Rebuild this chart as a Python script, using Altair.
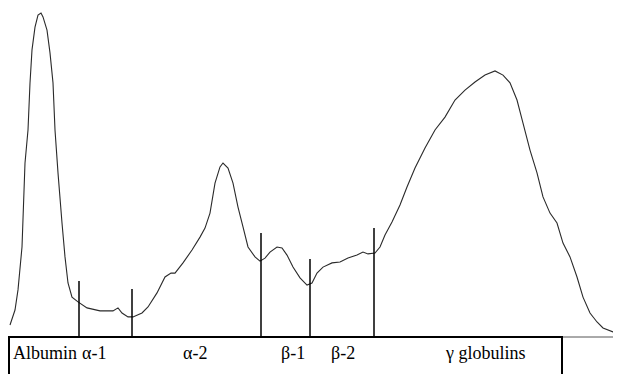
import altair as alt
import pandas as pd

# Densitometry trace of serum protein electrophoresis (mobility units, relative intensity)
mobility = [0.4, 1.4, 2.0, 2.8, 3.4, 4.0, 4.4, 4.8, 5.4, 6.0, 6.6, 7.0, 7.8, 8.4, 9.0, 9.4,
            10.0, 10.8, 11.4, 12.0, 12.8, 14.0, 15.8, 18.4, 21.0, 22.0, 22.8, 24.0, 25.0,
            26.8, 28.0, 29.8, 31.4, 32.6, 33.4, 35.0, 36.8, 38.4, 39.4, 40.4, 41.4, 42.4,
            43.0, 44.0, 45.0, 46.0, 47.0, 48.0, 49.4, 50.4, 51.4, 52.4, 53.8, 54.8, 55.8,
            57.0, 58.4, 59.8, 60.8, 61.8, 63.0, 64.8, 66.4, 68.0, 69.8, 71.0, 72.0, 73.4,
            74.4, 75.4, 76.8, 78.4, 79.8, 81.4, 83.4, 85.4, 87.4, 89.4, 91.4, 93.4, 95.4,
            97.4, 99.0, 100.4, 101.8, 103.0, 104.4, 105.8, 107.0, 108.4, 109.8, 111.0,
            112.4, 113.8, 115.0, 116.4, 117.8, 119.0, 121.0, 122.4]
intensity = [4.0, 9.0, 15.7, 30.0, 58.0, 69.0, 84.7, 95.7, 103.3, 107.3, 108.0, 106.7, 102.3,
             94.7, 84.7, 69.0, 54.7, 38.0, 26.7, 18.0, 13.3, 11.7, 9.7, 8.7, 8.7, 9.7, 8.0,
             6.7, 6.7, 8.0, 10.0, 14.7, 20.0, 21.3, 21.3, 24.7, 29.0, 33.3, 36.3, 41.3, 51.3,
             56.7, 58.0, 56.3, 51.3, 43.3, 36.7, 30.0, 26.7, 25.3, 26.3, 28.3, 30.0, 29.7,
             27.3, 23.3, 19.7, 17.3, 18.0, 21.3, 23.3, 24.7, 25.0, 26.3, 27.3, 28.3, 27.7,
             28.0, 30.0, 34.0, 38.3, 44.0, 50.0, 56.3, 63.0, 69.0, 73.3, 79.0, 82.3, 85.0,
             87.3, 88.7, 87.3, 84.7, 79.0, 71.3, 62.3, 54.7, 46.7, 41.3, 38.0, 31.3, 26.7,
             20.0, 13.3, 8.0, 5.0, 3.0, 1.7, 0.7]

# Fraction boundaries (mobility) and the height of each divider line
divider_x = [14.2, 24.8, 50.6, 60.4, 73.2]
divider_top = [18.7, 16.0, 34.7, 26.0, 36.3]

# Fraction labels and their start positions along the mobility axis
fractions = ["Albumin", "α-1", "α-2", "β-1", "β-2", "γ globulins"]
label_x = [1.0, 14.8, 35.0, 54.6, 64.6, 87.6]
label_y = -5.5

# Label box extent
box_x = [0.2, 110.8]
box_y = [0.0, -14.0]

X_DOMAIN = [0, 121]
Y_DOMAIN = [-12.333, 109.667]

xs = alt.Scale(domain=X_DOMAIN, nice=False, zero=False)
ys = alt.Scale(domain=Y_DOMAIN, nice=False, zero=False)

trace = pd.DataFrame({"x": mobility, "y": intensity})
divs = pd.DataFrame({"x": divider_x, "top": divider_top, "base": [0.0] * len(divider_x)})
labels = pd.DataFrame({"x": label_x, "y": [label_y] * len(fractions), "name": fractions})
box = pd.DataFrame({"x": [box_x[0]], "x2": [box_x[1]], "y": [box_y[0]], "y2": [box_y[1]]})
base = pd.DataFrame({"x": [X_DOMAIN[0]], "x2": [X_DOMAIN[1]], "y": [0.0]})

baseline = alt.Chart(base).mark_rule(color="#555555", strokeWidth=1).encode(
    x=alt.X("x:Q", scale=xs, axis=None),
    x2="x2:Q",
    y=alt.Y("y:Q", scale=ys, axis=None),
)

line = alt.Chart(trace).mark_line(color="#2a2a2a", strokeWidth=1.1, clip=True).encode(
    x=alt.X("x:Q", scale=xs, axis=None),
    y=alt.Y("y:Q", scale=ys, axis=None),
)

rules = alt.Chart(divs).mark_rule(color="black", strokeWidth=1.5).encode(
    x=alt.X("x:Q", scale=xs, axis=None),
    y=alt.Y("top:Q", scale=ys, axis=None),
    y2="base:Q",
)

rect = alt.Chart(box).mark_rect(fillOpacity=0, stroke="black", strokeWidth=2, clip=True).encode(
    x=alt.X("x:Q", scale=xs, axis=None),
    x2="x2:Q",
    y=alt.Y("y:Q", scale=ys, axis=None),
    y2="y2:Q",
)

text = alt.Chart(labels).mark_text(
    align="left", baseline="middle", color="black", font="Liberation Serif", fontSize=18
).encode(
    x=alt.X("x:Q", scale=xs, axis=None),
    y=alt.Y("y:Q", scale=ys, axis=None),
    text="name:N",
)

chart = alt.layer(baseline, line, rules, rect, text).properties(
    width=605, height=366, autosize="none", padding=0
).configure_view(strokeWidth=0)

chart.save("out.html", embed_options={"renderer": "svg", "actions": False})
